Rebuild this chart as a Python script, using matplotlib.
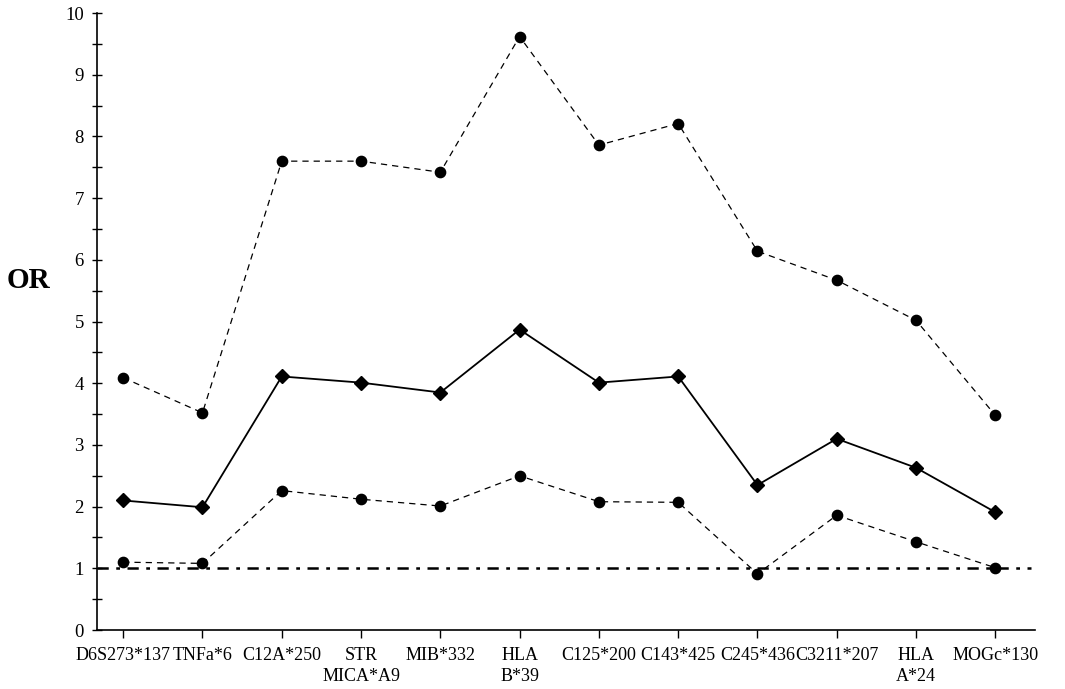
import matplotlib
matplotlib.use("Agg")
import matplotlib.pyplot as plt
from matplotlib.ticker import MultipleLocator

categories = ["D6S273*137", "TNFa*6", "C12A*250", "STR\nMICA*A9", "MIB*332", "HLA\nB*39",
              "C125*200", "C143*425", "C245*436", "C3211*207", "HLA\nA*24", "MOGc*130"]
upper_ci = [4.09, 3.52, 7.60, 7.60, 7.42, 9.62, 7.86, 8.21, 6.14, 5.67, 5.02, 3.48]
odds_ratio = [2.10, 1.99, 4.11, 4.01, 3.85, 4.87, 4.01, 4.11, 2.35, 3.10, 2.63, 1.91]
lower_ci = [1.10, 1.08, 2.26, 2.12, 2.01, 2.50, 2.08, 2.07, 0.91, 1.86, 1.43, 1.01]
reference = 1.0
y_ticks = list(range(0, 11))

plt.rcParams['font.family'] = ['Liberation Serif', 'DejaVu Serif']

fig = plt.figure(figsize=(10.65, 6.89), dpi=100)
ax = fig.add_axes([0.0911, 0.0856, 0.8807, 0.8954])

x = list(range(len(categories)))

ax.plot([-0.33, 11.45], [reference, reference], color='black', lw=1.8,
        dashes=(4.5, 3, 1.5, 3), zorder=1)
ax.plot(x, upper_ci, color='black', lw=0.9, dashes=(5, 4), marker='o', ms=7.4,
        markerfacecolor='black', zorder=3)
ax.plot(x, lower_ci, color='black', lw=0.9, dashes=(5, 4), marker='o', ms=7.4,
        markerfacecolor='black', zorder=3)
ax.plot(x, odds_ratio, color='black', lw=1.3, marker='D', ms=7,
        markerfacecolor='black', zorder=4)

ax.set_xlim(-0.33, 11.5)
ax.set_ylim(0, 10)
ax.set_yticks(y_ticks)
ax.yaxis.set_minor_locator(MultipleLocator(0.5))
ax.set_xticks(x)
ax.set_xticklabels(categories, fontsize=13, linespacing=1.3)
ax.tick_params(axis='y', which='both', direction='inout', length=7, width=1, labelsize=13.5, pad=6)
ax.tick_params(axis='x', direction='out', length=6, width=1, pad=6)

for s in ['top', 'right']:
    ax.spines[s].set_visible(False)
for s in ['left', 'bottom']:
    ax.spines[s].set_linewidth(1.2)

fig.text(0.027, 0.593, "OR", fontsize=21, fontweight='bold', ha='center', va='center')

fig.savefig("out.png", dpi=100)
